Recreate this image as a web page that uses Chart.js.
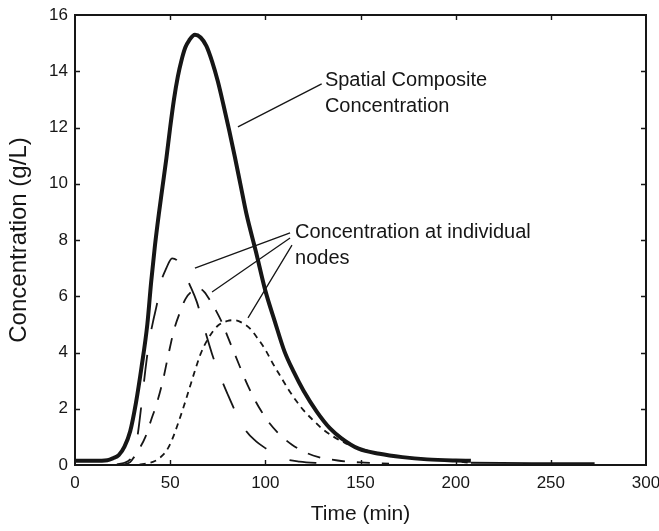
<!DOCTYPE html>
<html>
<head>
<meta charset="utf-8">
<script src="https://cdn.jsdelivr.net/npm/chart.js@4/dist/chart.umd.min.js"></script>
<style>
  html, body { margin: 0; padding: 0; background: #fff; }
  #wrap { width: 659px; height: 531px; }
</style>
</head>
<body>
<div id="wrap"><canvas id="c" width="659" height="531"></canvas></div>
<script>
// ---- Data ----
const compositeTime = [0, 10, 17, 20, 23, 26, 29, 32, 35, 38, 40, 42, 44, 46, 48, 50, 52, 54, 56, 58, 60, 63, 66, 69, 72, 75, 78, 81, 84, 87, 90, 95, 100, 105, 110, 115, 120, 127, 134, 140, 149, 160, 172, 185, 200, 208];
const compositeConc = [0.15, 0.15, 0.17, 0.24, 0.35, 0.65, 1.2, 2.2, 3.5, 5.0, 6.5, 7.8, 8.9, 9.9, 10.9, 12.0, 13.0, 13.8, 14.4, 14.85, 15.1, 15.3, 15.2, 14.9, 14.35, 13.65, 12.8, 11.9, 10.95, 9.95, 8.95, 7.6, 6.2, 5.1, 4.05, 3.3, 2.65, 1.9, 1.3, 0.95, 0.58, 0.4, 0.28, 0.2, 0.16, 0.15];

const nodeATime = [22, 26, 29, 31, 33, 35, 37, 39, 41, 43, 45, 48, 51, 54, 57, 60, 64, 68, 72, 76, 80, 85, 90, 95, 100, 105, 110, 118, 128, 140];
const nodeAConc = [0.02, 0.08, 0.2, 0.45, 1.1, 2.2, 3.4, 4.4, 5.1, 5.7, 6.45, 7.0, 7.35, 7.25, 6.9, 6.45, 5.8, 4.85, 3.95, 3.2, 2.55, 1.8, 1.2, 0.85, 0.6, 0.38, 0.22, 0.12, 0.07, 0.04];

const nodeBTime = [26, 29, 31, 34, 37, 40, 43, 46, 49, 52, 55, 58, 61, 64, 66, 68, 71, 74, 77, 80, 83, 86, 89, 92, 95, 98, 102, 107, 114, 121, 128, 138, 150, 165];
const nodeBConc = [0.02, 0.1, 0.28, 0.6, 1.0, 1.6, 2.2, 2.95, 3.9, 4.8, 5.4, 5.9, 6.15, 6.25, 6.25, 6.15, 5.85, 5.5, 5.1, 4.6, 4.1, 3.6, 3.1, 2.65, 2.25, 1.9, 1.5, 1.12, 0.72, 0.45, 0.28, 0.16, 0.09, 0.05];

const nodeCTime = [34, 38, 42, 45, 48, 51, 54, 57, 60, 63, 66, 70, 75, 80, 84, 88, 92, 96, 100, 104, 108, 112, 116, 120, 125, 130, 136, 142, 149, 158, 170, 185, 200, 208, 240, 273];
const nodeCConc = [0.02, 0.06, 0.14, 0.28, 0.5, 0.9, 1.45, 2.05, 2.7, 3.35, 3.95, 4.5, 4.95, 5.12, 5.15, 5.05, 4.85, 4.5, 4.1, 3.6, 3.15, 2.7, 2.3, 1.95, 1.6, 1.28, 1.0, 0.78, 0.6, 0.43, 0.3, 0.2, 0.14, 0.08, 0.07, 0.07];

const xTickValues = [0, 50, 100, 150, 200, 250, 300];
const yTickValues = [0, 2, 4, 6, 8, 10, 12, 14, 16];

const compositeLabel = ['Spatial Composite', 'Concentration'];
const nodesLabel = ['Concentration at individual', 'nodes'];

// ---- Layout / style (kept apart from data) ----
const FONT = '"Liberation Sans", Arial, Helvetica, sans-serif';
const INK = '#161616';
const annot = {
  composite: { text: { x: 131.3, y: 13.46, dy: 26 }, lines: [[[129.6, 13.55], [85.6, 12.02]]] },
  nodes: { text: { x: 115.6, y: 8.07, dy: 26 }, lines: [
    [[113.0, 8.25], [63.0, 7.0]],
    [[113.0, 8.07], [72.0, 6.15]],
    [[114.0, 7.82], [90.9, 5.23]]
  ] }
};

const toXY = (xs, ys) => xs.map((t, i) => ({ x: t, y: ys[i] }));

const framePlugin = {
  id: 'frame',
  afterDatasetsDraw(chart) {
    const { ctx, chartArea: a, scales: { x, y } } = chart;
    ctx.save();
    ctx.strokeStyle = INK;
    ctx.lineWidth = 1.4;
    ctx.beginPath();
    xTickValues.forEach(v => {
      if (v === 0 || v === 300) return;
      const px = Math.round(x.getPixelForValue(v)) + 0.5;
      ctx.moveTo(px, a.bottom); ctx.lineTo(px, a.bottom - 5);
      ctx.moveTo(px, a.top); ctx.lineTo(px, a.top + 5);
    });
    yTickValues.forEach(v => {
      if (v === 0 || v === 16) return;
      const py = Math.round(y.getPixelForValue(v)) + 0.5;
      ctx.moveTo(a.left, py); ctx.lineTo(a.left + 5, py);
      ctx.moveTo(a.right, py); ctx.lineTo(a.right - 5, py);
    });
    ctx.stroke();
    ctx.lineWidth = 2;
    ctx.strokeRect(a.left, a.top, a.right - a.left, a.bottom - a.top);

    // annotation leader lines
    ctx.lineWidth = 1.3;
    ctx.beginPath();
    [annot.composite, annot.nodes].forEach(g => g.lines.forEach(([p, q]) => {
      ctx.moveTo(x.getPixelForValue(p[0]), y.getPixelForValue(p[1]));
      ctx.lineTo(x.getPixelForValue(q[0]), y.getPixelForValue(q[1]));
    }));
    ctx.stroke();

    // annotation text
    ctx.fillStyle = INK;
    ctx.font = '20px ' + FONT;
    ctx.textBaseline = 'alphabetic';
    ctx.textAlign = 'left';
    [[annot.composite, compositeLabel], [annot.nodes, nodesLabel]].forEach(([g, lines]) => {
      const tx = x.getPixelForValue(g.text.x);
      const ty = y.getPixelForValue(g.text.y);
      lines.forEach((s, i) => ctx.fillText(s, tx, ty + i * g.text.dy));
    });
    ctx.restore();
  }
};

new Chart(document.getElementById('c'), {
  type: 'line',
  data: {
    datasets: [
      { label: 'Spatial Composite Concentration', data: toXY(compositeTime, compositeConc),
        borderColor: INK, borderWidth: 4, cubicInterpolationMode: 'monotone' },
      { label: 'Node 1', data: toXY(nodeATime, nodeAConc),
        borderColor: INK, borderWidth: 1.8, borderDash: [27, 26], borderDashOffset: 12, cubicInterpolationMode: 'monotone' },
      { label: 'Node 2', data: toXY(nodeBTime, nodeBConc),
        borderColor: INK, borderWidth: 1.8, borderDash: [13, 12], cubicInterpolationMode: 'monotone' },
      { label: 'Node 3', data: toXY(nodeCTime, nodeCConc),
        borderColor: INK, borderWidth: 1.8, borderDash: [6, 5], cubicInterpolationMode: 'monotone',
        segment: { borderDash: c => (c.p0.parsed.x >= 208 ? [] : undefined) } }
    ]
  },
  options: {
    responsive: false,
    animation: false,
    devicePixelRatio: 1,
    layout: { padding: { top: 15, right: 13, left: 0, bottom: 0 } },
    elements: { point: { radius: 0, hoverRadius: 0 } },
    plugins: { legend: { display: false }, tooltip: { enabled: false } },
    scales: {
      x: {
        type: 'linear', min: 0, max: 300,
        afterFit: s => { s.height = 66; s.paddingLeft = 0; s.paddingRight = 0; },
        afterBuildTicks: s => { s.ticks = xTickValues.map(v => ({ value: v })); },
        grid: { display: false, drawTicks: false },
        border: { display: false },
        ticks: { padding: 8, color: INK, font: { family: FONT, size: 17 }, maxRotation: 0 },
        title: { display: true, text: 'Time (min)', color: INK, font: { family: FONT, size: 21 }, padding: { top: 0, bottom: 4 } }
      },
      y: {
        type: 'linear', min: 0, max: 16,
        afterFit: s => { s.width = 75; s.paddingTop = 0; s.paddingBottom = 0; },
        afterBuildTicks: s => { s.ticks = yTickValues.map(v => ({ value: v })); },
        grid: { display: false, drawTicks: false },
        border: { display: false },
        ticks: { padding: 7, color: INK, font: { family: FONT, size: 17 } },
        title: { display: true, text: 'Concentration (g/L)', color: INK, font: { family: FONT, size: 24 }, padding: { top: 5, bottom: 0 } }
      }
    }
  },
  plugins: [framePlugin]
});
</script>
</body>
</html>
